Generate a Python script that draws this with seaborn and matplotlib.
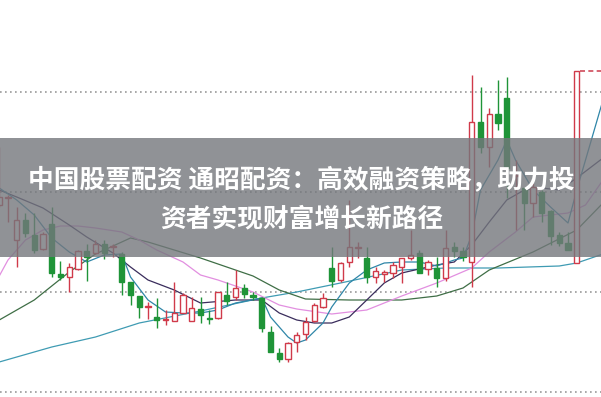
import numpy as np
import pandas as pd
import matplotlib
matplotlib.use("Agg")
import matplotlib.pyplot as plt
import seaborn as sns
from matplotlib.patches import Rectangle

# ---------------- data ----------------
opens = [11.87, 11.94, 11.52, 11.72, 11.57, 11.43, 11.68, 11.18, 11.15, 11.23,
         11.41, 11.39, 11.48, 11.45, 11.38, 11.10, 10.96, 10.85, 10.75, 10.715,
         10.71, 10.79, 10.71, 10.83, 10.74, 10.74, 10.97, 10.95, 11.04, 10.97,
         10.94, 10.60, 10.39, 10.33, 10.50, 10.58, 10.71, 10.85, 11.24, 11.12,
         11.30, 11.44, 11.34, 11.15, 11.18, 11.19, 11.25, 11.34, 11.39, 11.23,
         11.24, 11.14, 11.45, 11.41, 11.30, 12.70, 12.45, 12.78, 12.94, 12.16,
         12.04, 11.89, 12.00, 11.81, 11.57, 11.49, 11.29]
closes = [11.95, 11.95, 11.72, 11.59, 11.42, 11.58, 11.19, 11.15, 11.25, 11.41,
          11.35, 11.48, 11.39, 11.46, 11.10, 10.97, 10.85, 10.86, 10.72, 10.72,
          10.79, 10.97, 10.84, 10.77, 10.73, 11.00, 10.91, 11.04, 10.98, 10.95,
          10.64, 10.40, 10.33, 10.49, 10.57, 10.70, 10.87, 10.94, 11.11, 11.29,
          11.45, 11.45, 11.15, 11.21, 11.20, 11.27, 11.34, 11.37, 11.19, 11.30,
          11.14, 11.44, 11.41, 11.35, 12.70, 12.45, 12.78, 12.69, 12.24, 12.17,
          11.89, 12.05, 11.79, 11.56, 11.49, 11.42, 13.21]
highs = [12.45, 11.97, 11.85, 11.79, 11.79, 11.60, 11.85, 11.31, 11.29, 11.42,
         11.48, 11.52, 11.52, 11.48, 11.40, 11.10, 10.96, 10.90, 10.94, 10.82,
         11.10, 10.99, 10.95, 10.95, 10.82, 11.00, 11.10, 11.22, 11.08, 11.00,
         10.95, 10.66, 10.44, 10.50, 10.60, 10.75, 10.89, 10.99, 11.45, 11.30,
         11.92, 11.50, 11.45, 11.25, 11.22, 11.30, 11.34, 11.62, 11.42, 11.32,
         11.35, 11.62, 11.50, 11.45, 13.17, 13.05, 12.84, 13.12, 13.15, 12.32,
         12.05, 12.09, 12.02, 11.82, 11.60, 11.60, 13.21]
lows = [11.85, 11.70, 11.25, 11.55, 11.39, 11.42, 11.15, 11.12, 11.00, 11.22,
        11.11, 11.38, 11.33, 11.35, 10.97, 10.87, 10.74, 10.73, 10.64, 10.67,
        10.71, 10.79, 10.71, 10.69, 10.68, 10.73, 10.87, 10.92, 10.94, 10.92,
        10.60, 10.40, 10.30, 10.30, 10.40, 10.52, 10.70, 10.84, 11.05, 11.10,
        11.25, 11.34, 11.09, 11.09, 11.10, 11.14, 11.09, 11.32, 11.19, 11.17,
        11.05, 11.11, 11.35, 11.31, 11.05, 12.39, 12.25, 12.62, 11.94, 11.62,
        11.62, 11.75, 11.70, 11.47, 11.46, 11.42, 11.29]

ma5_idx = [0, 2, 4, 6, 8, 10, 12, 14, 15, 17, 19, 21, 23, 25, 27, 30, 31, 33, 34, 35,
           37, 38, 40, 42, 44, 46, 48, 50, 52, 53, 54, 55, 57, 58, 59, 61, 63, 65, 66, 69]
ma5_val = [12.04, 11.92, 11.77, 11.54, 11.40, 11.30, 11.37, 11.38, 11.15, 10.92,
           10.80, 10.79, 10.79, 10.82, 10.89, 10.94, 10.75, 10.55, 10.49, 10.52,
           10.69, 10.85, 11.09, 11.22, 11.29, 11.30, 11.30, 11.26, 11.32, 11.34,
           11.57, 12.02, 12.32, 12.52, 12.32, 12.02, 11.85, 11.69, 12.02, 12.92]

ma10_idx = [0, 2, 5, 8, 10, 13, 15, 17, 20, 23, 27, 30, 32, 34, 36, 38, 40, 42, 44, 46,
            50, 52, 54, 56, 58, 60, 62, 64, 66, 69]
ma10_val = [12.02, 11.95, 11.84, 11.67, 11.55, 11.39, 11.25, 11.12, 11.02, 10.89,
            10.92, 10.92, 10.79, 10.72, 10.69, 10.69, 10.75, 10.92, 11.09, 11.19,
            11.27, 11.30, 11.47, 11.70, 11.92, 12.02, 12.04, 12.02, 12.14, 12.34]

ma20_idx = [0, 1, 3, 5, 7, 9, 11, 14, 16, 18, 21, 23, 25, 29, 32, 34, 38, 42, 46, 50,
            54, 56, 59, 61, 65, 67, 69]
ma20_val = [11.16, 11.32, 11.52, 11.62, 11.66, 11.66, 11.64, 11.60, 11.52, 11.42,
            11.30, 11.17, 11.12, 11.00, 10.87, 10.83, 10.78, 10.82, 10.96, 11.09,
            11.24, 11.40, 11.60, 11.75, 11.79, 11.87, 12.12]

ma30_idx = [0, 4, 8, 11, 15, 17, 23, 29, 32, 35, 40, 46, 50, 53, 56, 61, 66, 69]
ma30_val = [10.72, 10.92, 11.20, 11.38, 11.54, 11.50, 11.34, 11.16, 11.02, 10.93,
            10.92, 10.92, 10.96, 11.04, 11.22, 11.40, 11.62, 11.89]

ma60_idx = [0, 6, 11, 16, 23, 30, 34, 39, 46, 51, 57, 64, 66, 69]
ma60_val = [10.30, 10.45, 10.55, 10.69, 10.81, 10.94, 11.00, 11.09, 11.22, 11.24,
            11.24, 11.26, 11.29, 11.38]

grid_levels = [13.0, 12.0, 11.0, 10.0]
title_line1 = "中国股票配资 通昭配资：高效融资策略，助力投"
title_line2 = "资者实现财富增长新路径"

# ---------------- style ----------------
sns.set_theme(style="white")
plt.rcParams["font.family"] = ["Noto Sans CJK SC", "DejaVu Sans"]

RED = "#d03a4a"
GREEN = "#1f9438"

fig = plt.figure(figsize=(6.01, 3.97), dpi=100)
ax = fig.add_axes([0, 0, 1, 1])
ax.set_facecolor("white")

# grid lines
for g in grid_levels:
    ax.axhline(g, color="#9a9a9a", lw=1.2, ls=(0, (1, 2)), zorder=0)

# moving-average lines
frames = []
for name, ix, vals in [("ma60", ma60_idx, ma60_val), ("ma30", ma30_idx, ma30_val),
                       ("ma20", ma20_idx, ma20_val), ("ma10", ma10_idx, ma10_val),
                       ("ma5", ma5_idx, ma5_val)]:
    frames.append(pd.DataFrame({"idx": ix, "price": vals, "ma": name}))
lines = pd.concat(frames, ignore_index=True)
palette = {"ma60": "#3f9bb3", "ma30": "#3f6e46", "ma20": "#e28fe0",
           "ma10": "#3a2d5c", "ma5": "#2f86a8"}
sns.lineplot(data=lines, x="idx", y="price", hue="ma", palette=palette,
             estimator=None, sort=False, legend=False, linewidth=0.9, ax=ax, zorder=2)

# candlesticks
w = 0.62
for i, (o, c, h, l) in enumerate(zip(opens, closes, highs, lows)):
    up = c >= o
    col = RED if up else GREEN
    lo_b, hi_b = min(o, c), max(o, c)
    ax.vlines(i, hi_b, h, color=col, lw=1.0, zorder=3)
    ax.vlines(i, l, lo_b, color=col, lw=1.0, zorder=3)
    hgt = max(hi_b - lo_b, 0.012)
    if up:
        ax.bar(i, hgt, bottom=lo_b, width=w, facecolor="white", edgecolor=col,
               linewidth=1.0, zorder=4)
    else:
        ax.bar(i, hgt, bottom=lo_b, width=w, facecolor=col, edgecolor=col,
               linewidth=1.0, zorder=4)

# last-price dashed marker
n = len(closes)
ax.hlines(closes[-1], n - 1 + 0.4, n + 3, color="#d04a5a", lw=1.2, ls=(0, (3, 2)), zorder=3)

ax.set_xlim(0.086, 68.77)
ax.set_ylim(9.95, 13.92)
ax.set_xticks([])
ax.set_yticks([])
for s in ax.spines.values():
    s.set_visible(False)
ax.set_xlabel("")
ax.set_ylabel("")

# banner overlay
ax.add_patch(Rectangle((0, 1 - 257 / 397), 1, 119 / 397, transform=ax.transAxes,
                       facecolor="#74777c", alpha=0.8, edgecolor="none", zorder=10))
ax.text(0.502, 1 - 180 / 397, title_line1, transform=ax.transAxes, ha="center",
        va="center", fontsize=18.5, fontweight="bold", color="white", zorder=11)
ax.text(0.502, 1 - 219 / 397, title_line2, transform=ax.transAxes, ha="center",
        va="center", fontsize=18.5, fontweight="bold", color="white", zorder=11)

fig.savefig("out.png", dpi=100)
